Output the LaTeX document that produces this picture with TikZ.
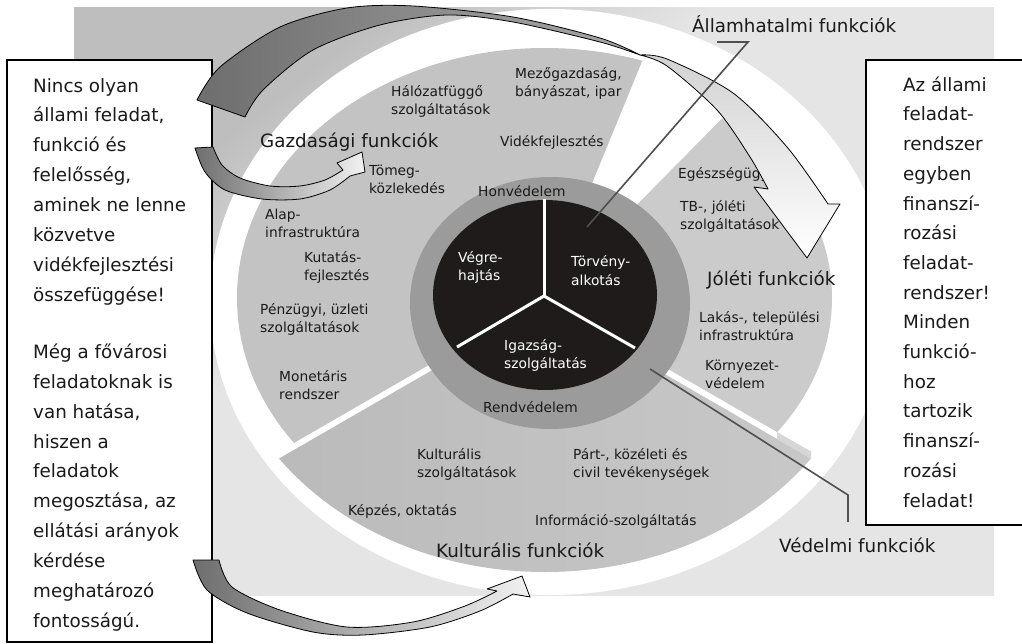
\documentclass[tikz,border=0pt]{standalone}
\usepackage{fontspec}
\setmainfont{DejaVu Sans}
\usepackage{tikz}
\usepackage{xcolor}

\definecolor{bgdark}{HTML}{BEBEBE}
\definecolor{bglight}{HTML}{E5E5E5}
\definecolor{gazdfill}{HTML}{C3C3C3}
\definecolor{jolfill}{HTML}{CBCBCB}
\definecolor{kultleft}{HTML}{B9B9B9}
\definecolor{kultright}{HTML}{C9C9C9}
\definecolor{stripfill}{HTML}{D6D6D6}
\definecolor{ringgray}{HTML}{9B9B9B}
\definecolor{corefill}{HTML}{1F1B1B}
\definecolor{leadgray}{HTML}{4F4F4F}
\definecolor{arrdark}{HTML}{6E6E6E}
\definecolor{arrmid}{HTML}{A8A8A8}
\definecolor{arrpale}{HTML}{D2D2D2}
\definecolor{arrlight}{HTML}{F2F2F2}
\definecolor{txt}{HTML}{1A1A1A}

\pgfdeclareverticalshading{bgfade}{100bp}{color(0bp)=(bglight); color(56bp)=(bglight); color(66bp)=(bgdark); color(100bp)=(bgdark)}

\tikzset{
  itemtext/.style={font=\fontsize{13.8}{18}\selectfont, text=txt, align=left, anchor=base west, inner sep=0pt},
  coretext/.style={itemtext, text=white},
  functext/.style={font=\fontsize{18.3}{22}\selectfont, text=txt, anchor=base west, inner sep=0pt},
  boxtext/.style={font=\fontsize{18.3}{29.9}\selectfont, text=txt, align=left, anchor=base west, inner sep=0pt},
  sidebox/.style={draw=black, line width=2pt, fill=white},
  split/.style={white, line width=3pt},
  leader/.style={leadgray, line width=1.6pt},
  arrowline/.style={draw=black, line width=0.8pt, line join=round},
}

\begin{document}
\begin{tikzpicture}[x=1pt,y=-1pt]
\useasboundingbox (0,0) rectangle (1022,644);

% background
\begin{scope}
\clip (74,8) rectangle (994,595);
\shade[shading=bgfade, shading angle=38] (34,-198) rectangle (1034,802);
\end{scope}
\fill[white] (550,302) ellipse [x radius=340, y radius=293];

% sectors
\coordinate (hub) at (545,298);
\coordinate (kulthub) at (545,305);
\begin{scope}
\clip (hub) -- +(-67.7:900) -- +(-135:1300) -- +(-210:900) -- cycle;
\fill[gazdfill] (hub) ellipse [x radius=308, y radius=250];
\end{scope}
\begin{scope}
\clip (hub) -- +(30:900) -- +(-7.7:1300) -- +(-45.4:900) -- cycle;
\fill[jolfill] (hub) ellipse [x radius=287, y radius=228];
\end{scope}
\begin{scope}
\clip (kulthub) -- +(150:900) -- +(90:1300) -- +(30:900) -- cycle;
\shade[left color=kultleft, right color=kultright] (kulthub) ellipse [x radius=325, y radius=267];
\end{scope}
\fill[stripfill] (777,432) -- (811,451.5) -- (811,458.5) -- (777,439) -- cycle;

% core
\fill[ringgray] (550,303) ellipse [x radius=140, y radius=126];
\fill[corefill] (545,295) ellipse [x radius=112, y radius=95];
\coordinate (ycenter) at (544,296);
\draw[split] (ycenter) -- (544,199);
\draw[split] (ycenter) -- (457,347);
\draw[split] (ycenter) -- (635,348);

% multi-line nodes sit on their last baseline
\node[coretext] (vegre) at (458,280) {Végre-\\hajtás};
\node[coretext] (torveny) at (571,285) {Törvény-\\alkotás};
\node[coretext] (igazsag) at (504,368) {Igazság-\\szolgáltatás};
\node[itemtext] (honv) at (478,197) {Honvédelem};
\node[itemtext] (rendv) at (483,412) {Rendvédelem};

% sector labels
\node[functext] (gazd) at (260,148) {Gazdasági funkciók};
\node[functext] (jol) at (707,285) {Jóléti funkciók};
\node[functext] (kult) at (436,557) {Kulturális funkciók};
\node[functext] (allam) at (692,33) {Államhatalmi funkciók};
\node[functext] (vedelmi) at (779,552) {Védelmi funkciók};

\node[itemtext] (halozat) at (391,115) {Hálózatfüggő\\szolgáltatások};
\node[itemtext] (mezo) at (515,97) {Mezőgazdaság,\\bányászat, ipar};
\node[itemtext] (videk) at (500,147) {Vidékfejlesztés};
\node[itemtext] (tomeg) at (369,194) {Tömeg-\\közlekedés};
\node[itemtext] (alap) at (265,238) {Alap-\\infrastruktúra};
\node[itemtext] (kutat) at (304,280) {Kutatás-\\fejlesztés};
\node[itemtext] (penz) at (260,332) {Pénzügyi, üzleti\\szolgáltatások};
\node[itemtext] (monet) at (279,399) {Monetáris\\rendszer};
\node[itemtext] (egesz) at (678,179) {Egészségügy};
\node[itemtext] (tb) at (680,230) {TB-, jóléti\\szolgáltatások};
\node[itemtext] (lakas) at (699,340) {Lakás-, települési\\infrastruktúra};
\node[itemtext] (kornyezet) at (705,388) {Környezet-\\védelem};
\node[itemtext] (kultszolg) at (417,477) {Kulturális\\szolgáltatások};
\node[itemtext] (part) at (573,477) {Párt-, közéleti és\\civil tevékenységek};
\node[itemtext] (kepzes) at (348,515) {Képzés, oktatás};
\node[itemtext] (info) at (535,525) {Információ-szolgáltatás};

% side boxes
\draw[sidebox] (7,60) rectangle (212,642);
\node[boxtext] (leftnote) at (33,627.4) {Nincs olyan\\állami feladat,\\funkció és\\felelősség,\\aminek ne lenne\\közvetve\\vidékfejlesztési\\összefüggése!\\[27.1pt]Még a fővárosi\\feladatoknak is\\van hatása,\\hiszen a\\feladatok\\megosztása, az\\ellátási arányok\\kérdése\\meghatározó\\fontosságú.};
\draw[sidebox] (866,60) rectangle (1030,525);
\node[boxtext, font=\fontsize{18.3}{29.7}\selectfont] (rightnote) at (903,507) {Az állami\\feladat-\\rendszer\\egyben\\finanszí-\\rozási\\feladat-\\rendszer!\\Minden\\funkció-\\hoz\\tartozik\\finanszí-\\rozási\\feladat!};

% arrows
\draw[arrowline, left color=arrdark, right color=arrmid]
  plot[smooth] coordinates {(197,100) (220,67) (280,27) (347,8) (413,6) (513,17) (600,38) (640,55)}
  -- plot[smooth] coordinates {(640,55) (600,42) (513,22) (447,15) (380,25) (313,50) (263,90) (245,117)}
  -- cycle;
\draw[arrowline, top color=arrpale, bottom color=white]
  plot[smooth] coordinates {(640,55) (667,59) (733,93) (787,147) (828,204)}
  -- (840,204) -- (807,258) -- (754,187)
  -- plot[smooth] coordinates {(768,189) (750,157) (717,110) (667,66) (640,55)}
  -- cycle;
\draw[arrowline, left color=arrdark, right color=arrlight]
  plot[smooth] coordinates {(195,148) (205,172) (225,190) (262,199) (300,199) (330,190) (350,176)}
  -- (365,172) -- (362,152) -- (337,163)
  -- plot[smooth] coordinates {(343,170) (325,180) (300,186) (270,186) (240,178) (222,165) (213,147)}
  -- cycle;
\draw[arrowline, left color=arrdark, right color=arrlight]
  plot[smooth] coordinates {(193,560) (207,590) (247,613) (313,632) (363,635) (430,627) (480,611) (513,594)}
  -- (530,597) -- (522,576) -- (487,589)
  -- plot[smooth] coordinates {(497,591) (465,606) (413,622) (347,627) (280,610) (232,587) (219,560)}
  -- cycle;

% leaders
\coordinate (allamEnd) at (587,227);
\coordinate (vedEnd) at (650,369);
\draw[leader] (allam.base west) ++(25,9) -- ++(31,0) -- (allamEnd);
\draw[leader] (vedelmi.base west) ++(69,-30) -- ++(0,-27) -- (vedEnd);
\end{tikzpicture}
\end{document}
